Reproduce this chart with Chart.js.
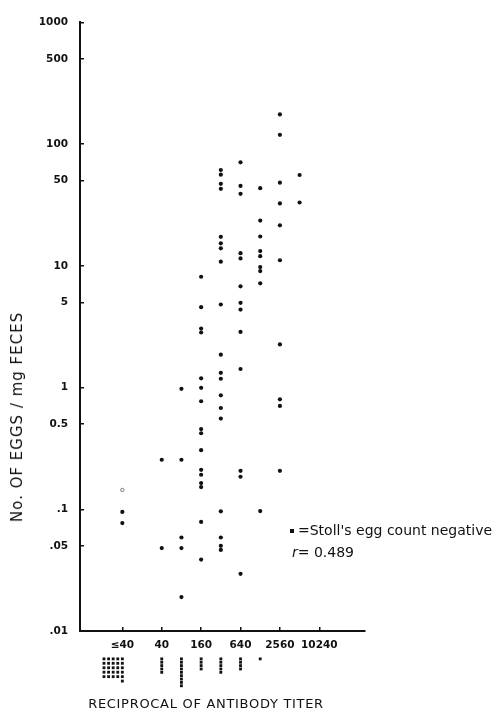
<!DOCTYPE html>
<html>
<head>
<meta charset="utf-8">
<script src="https://cdn.jsdelivr.net/npm/chart.js@4/dist/chart.umd.min.js"></script>
<style>
  body { margin: 0; background: #fff; }
  #wrap { position: relative; width: 498px; height: 718px; }
  canvas { position: absolute; left: 0; }
  #chart { top: 0; }
  #negChart { top: 650px; }
  .txt { position: absolute; color: #111; font-family: "DejaVu Sans", sans-serif; white-space: nowrap; }
  #ytitle { left: 17px; top: 417px; font-size: 15px; letter-spacing: 1px; transform: translate(-50%, -50%) rotate(-90deg); }
  #xtitle { left: 206px; top: 703px; font-size: 13px; letter-spacing: 0.7px; transform: translate(-50%, -50%); }
  #neg { left: 290px; top: 521px; font-size: 14px; line-height: 18px; }
  #neg i { display: inline-block; width: 4px; height: 4px; background: #111; margin-right: 4px; vertical-align: middle; }
  #rval { left: 292px; top: 543px; font-size: 14px; line-height: 18px; }
</style>
</head>
<body>
<div id="wrap">
  <canvas id="chart" width="498" height="718"></canvas>
  <canvas id="negChart" width="498" height="45"></canvas>
  <div class="txt" id="ytitle">No. OF EGGS / mg FECES</div>
  <div class="txt" id="xtitle">RECIPROCAL OF ANTIBODY TITER</div>
  <div class="txt" id="neg"><i></i>=Stoll's egg count negative</div>
  <div class="txt" id="rval"><em>r</em>= 0.489</div>
</div>
<script>
// columnas del titulo (cada paso = dilución doble)
const titerSteps = [0, 2, 3, 4, 5, 6, 7, 8, 9];
const titerNames = ["≤40", "40", "80", "160", "320", "640", "1280", "2560", "5120"];

// huevos / mg por columna
const eggsLe40 = [0.095, 0.077];
const eggs40 = [0.255, 0.048];
const eggs80 = [0.975, 0.255, 0.0586, 0.048, 0.019];
const eggs160 = [8.13, 4.57, 3.05, 2.83, 1.19, 0.995, 0.771, 0.456, 0.421, 0.306, 0.211, 0.192, 0.164, 0.152, 0.0787, 0.0386];
const eggs320 = [61.2, 56.0, 47.1, 42.9, 17.3, 15.3, 13.9, 10.8, 4.81, 1.86, 1.32, 1.18, 0.863, 0.679, 0.556, 0.0962, 0.0586, 0.0501, 0.0463];
const eggs640 = [70.7, 45.3, 39.0, 12.7, 11.5, 6.78, 4.96, 4.37, 2.86, 1.42, 0.207, 0.185, 0.0295];
const eggs1280 = [43.4, 23.5, 17.4, 13.2, 12.0, 9.75, 9.04, 7.18, 0.0967];
const eggs2560 = [175, 119, 48.2, 32.5, 21.5, 11.1, 2.26, 0.80, 0.706, 0.207];
const eggs5120 = [55.7, 33.1];
const faintLe40 = [0.144];

// Stoll negativos (cantidad por columna)
const negativeCounts = [26, 5, 9, 4, 5, 4, 1, 0, 0];

// ejes
const yTicks = [0.01, 0.05, 0.1, 0.5, 1, 5, 10, 50, 100, 500, 1000];
const yTickLabels = [".01", ".05", ".1", "0.5", "1", "5", "10", "50", "100", "500", "1000"];
const xTicks = [0, 2, 4, 6, 8, 10];
const xTickLabels = ["≤40", "40", "160", "640", "2560", "10240"];

const eggsByColumn = [eggsLe40, eggs40, eggs80, eggs160, eggs320, eggs640, eggs1280, eggs2560, eggs5120];

const points = [];
eggsByColumn.forEach((list, c) => list.forEach(v => points.push({ x: titerSteps[c], y: v })));
const faintPoints = faintLe40.map(v => ({ x: titerSteps[0], y: v }));

// apilar los negativos debajo del eje (fila = -y)
const negPoints = [];
negativeCounts.forEach((n, c) => {
  for (let i = 0; i < n; i++) {
    if (c === 0) {
      const row = Math.floor(i / 5), col = i % 5;
      negPoints.push({ x: titerSteps[c] - col * 0.233, y: -(1.45 + row * 1.32) });
    } else {
      negPoints.push({ x: titerSteps[c], y: -(1.45 + i) });
    }
  }
});

const ink = "#111";
const tickFont = { family: "DejaVu Sans", size: 10.5, weight: "bold" };
const xMin = -2.15, xMax = 12.32;

new Chart(document.getElementById("chart"), {
  type: "scatter",
  data: {
    datasets: [
      { data: points, pointRadius: 2.1, pointBackgroundColor: ink, pointBorderWidth: 0 },
      { data: faintPoints, pointRadius: 1.7, pointBackgroundColor: "#fff", pointBorderColor: "#777", pointBorderWidth: 1 }
    ]
  },
  options: {
    responsive: false,
    animation: false,
    devicePixelRatio: 1,
    layout: { padding: { top: 17, right: 133, left: 0, bottom: 0 } },
    plugins: { legend: { display: false }, tooltip: { enabled: false } },
    scales: {
      x: {
        type: "linear", min: xMin, max: xMax, position: "bottom",
        border: { color: ink, width: 2 },
        grid: { drawOnChartArea: false, color: ink, lineWidth: 1.5, tickLength: -4 },
        ticks: {
          color: ink, font: tickFont, padding: 12, autoSkip: false, maxRotation: 0,
          callback: v => xTickLabels[xTicks.indexOf(v)] ?? ""
        },
        afterBuildTicks: s => { s.ticks = xTicks.map(v => ({ value: v })); },
        afterFit: s => { s.height = 87; }
      },
      y: {
        type: "logarithmic", min: 0.01, max: 1000, position: "left",
        border: { color: ink, width: 2 },
        grid: { drawOnChartArea: false, color: ink, lineWidth: 1.5, tickLength: -4 },
        ticks: {
          color: ink, font: tickFont, padding: 16, autoSkip: false,
          callback: v => {
            const i = yTicks.findIndex(t => Math.abs(t - v) / t < 1e-6);
            return i >= 0 ? yTickLabels[i] : "";
          }
        },
        afterBuildTicks: s => { s.ticks = yTicks.map(v => ({ value: v })); },
        afterFit: s => { s.width = 80; }
      }
    }
  }
});

// fila de negativos debajo del eje x, misma escala x
new Chart(document.getElementById("negChart"), {
  type: "scatter",
  data: {
    datasets: [
      { data: negPoints, pointStyle: "rect", pointRadius: 2, pointBackgroundColor: ink, pointBorderWidth: 0 }
    ]
  },
  options: {
    responsive: false,
    animation: false,
    devicePixelRatio: 1,
    layout: { padding: { top: 0, right: 133, left: 80, bottom: 0 } },
    plugins: { legend: { display: false }, tooltip: { enabled: false } },
    scales: {
      x: { type: "linear", min: xMin, max: xMax, display: false },
      y: { type: "linear", min: -11, max: 0, display: false }
    }
  }
});
</script>
</body>
</html>
